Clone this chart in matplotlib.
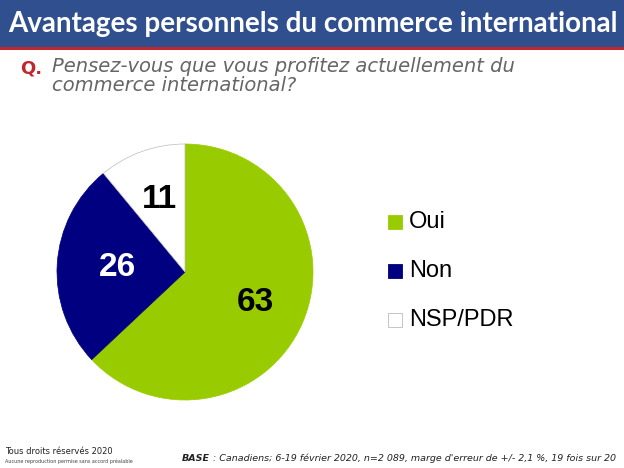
import numpy as np
import matplotlib.pyplot as plt
from matplotlib.patches import Rectangle

# Survey results
categories = ['Oui', 'Non', 'NSP/PDR']
values = [63, 26, 11]
colors = ['#99CC00', '#000080', '#FFFFFF']
label_colors = ['black', 'white', 'black']

title = "Avantages personnels du commerce international"
question = "Pensez-vous que vous profitez actuellement du\ncommerce international?"
base_note = "Canadiens; 6-19 février 2020, n=2 089, marge d'erreur de +/- 2,1 %, 19 fois sur 20"

W, H = 624, 468
fig = plt.figure(figsize=(W / 100, H / 100), dpi=100)
fig.patch.set_facecolor('white')

# Header band
bg = fig.add_axes([0, 0, 1, 1])
bg.set_xlim(0, W)
bg.set_ylim(H, 0)
bg.axis('off')
bg.add_patch(Rectangle((0, 0), W, 47, color='#2F4F8F', lw=0))
bg.add_patch(Rectangle((0, 47), W, 3, color='#C0262D', lw=0))
bg.text(8, 24, title, color='white', fontsize=20, fontweight='bold',
        family='Lato', va='center', ha='left')
bg.text(20, 68, "Q.", color='#C0262D', fontsize=13, fontweight='bold',
        family='DejaVu Sans', va='center')
bg.text(52, 57, question, color='#666666', fontsize=14, style='italic',
        family='DejaVu Sans', va='top', linespacing=1.0)

# Footer
bg.text(5, 451, "Tous droits réservés 2020", fontsize=6, color='#222222',
        family='DejaVu Sans', va='center')
bg.text(5, 461, "Aucune reproduction permise sans accord préalable", fontsize=3.5,
        color='#444444', family='DejaVu Sans', va='center')
t = bg.text(182, 461, "BASE", fontsize=6.8, color='#222222', style='italic',
            fontweight='bold', family='DejaVu Sans', ha='left', va='baseline')
fig.canvas.draw()
x_end = t.get_window_extent().x1 * W / fig.bbox.width
bg.text(x_end, 461, " : " + base_note, fontsize=6.8, color='#222222',
        style='italic', family='DejaVu Sans', ha='left', va='baseline')

# Pie
cx, cy, r = 185, 272, 128
ax = fig.add_axes([(cx - r) / W, 1 - (cy + r) / H, 2 * r / W, 2 * r / H])
wedges, texts = ax.pie(values, colors=colors, startangle=90, counterclock=False,
                       wedgeprops=dict(edgecolor='#BBBBBB', linewidth=0.5))
for w, c in zip(wedges, colors):
    if c != '#FFFFFF':
        w.set_edgecolor(c)
ax.set_xlim(-1, 1)
ax.set_ylim(-1, 1)
ax.set_aspect('equal')
dists = [0.6, 0.53, 0.6]
ang = 90.0
for v, d, tc in zip(values, dists, label_colors):
    mid = np.deg2rad(ang - v / 100 * 360 / 2)
    ax.text(d * np.cos(mid), d * np.sin(mid), str(v), ha='center', va='center',
            fontsize=24, fontweight='bold', color=tc, family='Liberation Sans')
    ang -= v / 100 * 360

# Legend
for i, (cat, c) in enumerate(zip(categories, colors)):
    y = 222 + i * 49
    bg.add_patch(Rectangle((388, y - 7), 14, 14, facecolor=c,
                           edgecolor='#BBBBBB' if c == '#FFFFFF' else c, lw=0.6))
    bg.text(409, y, cat, fontsize=17, family='Liberation Sans', va='center', ha='left')

fig.savefig('out.png', dpi=100)
